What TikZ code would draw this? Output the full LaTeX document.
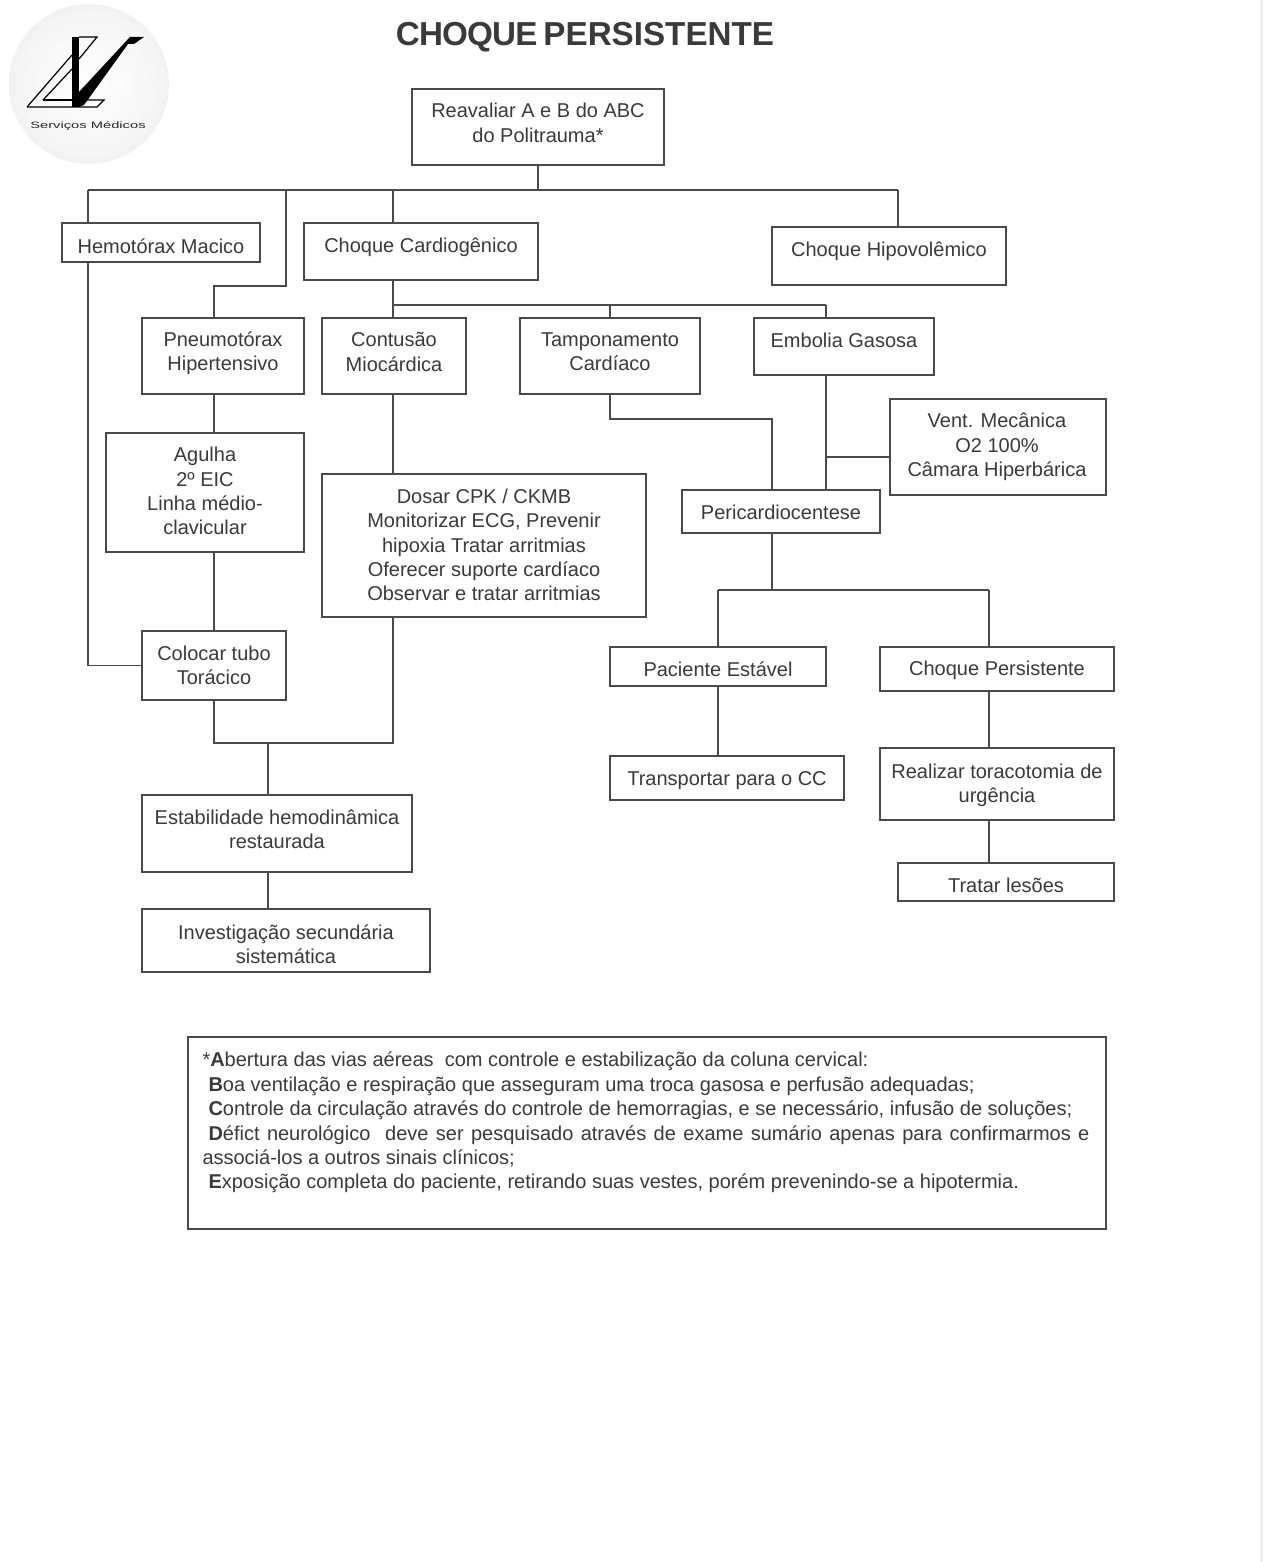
\documentclass[tikz,border=0pt]{standalone}
\usepackage{fontspec}
\setmainfont{Liberation Sans}
\definecolor{ink}{HTML}{3A3A3A}
\definecolor{edge}{HTML}{4A4A4A}
\definecolor{strip}{HTML}{EFEFEF}
\pgfdeclareradialshading{logoshade}{\pgfpointorigin}{color(0bp)=(white); color(22bp)=(white!96!black); color(36bp)=(white!89!black); color(46bp)=(white!81!black); color(50bp)=(white!73!black)}
\tikzset{
  x=0.5pt,y=-0.5pt,
  box/.style={draw=edge,line width=0.75pt,inner sep=0pt,outer sep=0pt,rectangle},
  txt/.style={text=ink,font=\fontsize{10}{12.15}\selectfont,align=center,inner sep=0pt},
  conn/.style={draw=edge,line width=0.75pt,line join=miter},
}
% name, x1, y1, x2, y2, text centre x, text centre y, text
\newcommand{\bx}[8]{%
  \pgfmathsetmacro{\cxx}{(#2+#4)/2}\pgfmathsetmacro{\cyy}{(#3+#5)/2}%
  \pgfmathsetmacro{\wdd}{(#4-#2)*0.5}\pgfmathsetmacro{\htt}{(#5-#3)*0.5}%
  \pgfmathsetmacro{\dxx}{(#6-\cxx)*0.5}\pgfmathsetmacro{\dyy}{(\cyy-#7)*0.5}%
  \node[box,minimum width=\wdd pt,minimum height=\htt pt,
    label={[txt,xshift=\dxx pt,yshift=\dyy pt]center:#8}] (#1) at (\cxx,\cyy) {};}
\begin{document}
\begin{tikzpicture}
\useasboundingbox (0,0) rectangle (1263,1562);
\fill[white] (0,0) rectangle (1263,1562);
\fill[strip] (1260,0) rectangle (1263,1562);
% logo
\shade[shading=logoshade] (89,84) circle[radius=80];
\begin{scope}[line width=0.6pt,draw=black]
\draw (27,107) -- (72,55);
\draw (43,100) -- (72,69);
\draw (79,37) -- (97,37) -- (79,59);
\draw (43,100) -- (72,100);
\draw (27,107) -- (97,107) -- (104,100) -- (87,100);
\fill[black] (72,37) rectangle (79,107);
\fill[black] (79,107) -- (79,92) -- (130,37) -- (144,37) -- (134,44) -- (128,44) -- (84,105) -- cycle;
\end{scope}
\node[inner sep=0pt,text=black!85,font=\fontsize{4.6}{5}\selectfont,xscale=1.6] (logotxt) at (88,126) {Serviços Médicos};
% title
\node[inner sep=0pt,text=ink,font=\bfseries\fontsize{16.6}{18}\selectfont] (title) at (585,37) {{\addfontfeature{LetterSpace=-2.5}CHOQUE}\hspace{3pt}PERSISTENTE};
% boxes
\bx{reav}{412}{89}{664}{165}{538}{123}{Reavaliar A e B do ABC\\do Politrauma*}
\bx{hemo}{62}{223}{260}{262}{161}{246}{Hemotórax Macico}
\bx{card}{304}{223}{538}{280}{421}{247}{Choque Cardiogênico}
\bx{hipo}{772}{227}{1006}{285}{889}{251}{Choque Hipovolêmico}
\bx{pneu}{142}{318}{304}{394}{223}{353}{Pneumotórax\\Hipertensivo}
\bx{cont}{322}{318}{466}{394}{394}{352}{Contusão\\Miocárdica}
\bx{tamp}{520}{318}{700}{394}{610}{352}{Tamponamento\\Cardíaco}
\bx{embo}{754}{318}{934}{375}{844}{340}{Embolia Gasosa}
\bx{vent}{890}{399}{1106}{495}{997}{447}{Vent. Mecânica\\O2 100\%\\Câmara Hiperbárica}
\bx{agul}{106}{433}{304}{552}{205}{491}{Agulha\\2º EIC\\Linha médio-\\clavicular}
\bx{dosa}{322}{474}{646}{617}{484}{545}{Dosar CPK / CKMB\\Monitorizar ECG, Prevenir\\hipoxia Tratar arritmias\\Oferecer suporte cardíaco\\Observar e tratar arritmias}
\bx{peri}{682}{490}{880}{533}{781}{512}{Pericardiocentese}
\bx{tubo}{142}{631}{286}{700}{214}{665}{Colocar tubo\\Torácico}
\bx{paci}{610}{647}{826}{686}{718}{669}{Paciente Estável}
\bx{chqp}{880}{647}{1114}{691}{997}{670}{Choque Persistente}
\bx{tran}{610}{756}{844}{800}{727}{781}{Transportar para o CC}
\bx{real}{880}{748}{1114}{820}{997}{785}{Realizar toracotomia de\\urgência}
\bx{esta}{142}{795}{412}{872}{277}{829}{Estabilidade hemodinâmica\\restaurada}
\bx{trat}{898}{863}{1114}{901}{1006}{885}{Tratar lesões}
\bx{inve}{142}{909}{430}{972}{286}{944}{Investigação secundária\\sistemática}
% footnote
\node[box,minimum width=459pt,minimum height=96pt,
  label={[text=ink,inner sep=0pt,xshift=-0.5pt,yshift=-6pt,font=\fontsize{10}{12.2}\selectfont]center:{\parbox{443.5pt}{\fontsize{10}{12.2}\selectfont\setlength{\parindent}{0pt}\setlength{\parfillskip}{0pt plus 1fil}%
*\textbf{A}bertura das vias aéreas\ \ com controle e estabilização da coluna cervical:\\
\hspace*{3pt}\textbf{B}oa ventilação e respiração que asseguram uma troca gasosa e perfusão adequadas;\\
\hspace*{3pt}\textbf{C}ontrole da circulação através do controle de hemorragias, e se necessário, infusão de soluções;\\
\hspace*{3pt}\textbf{D}éfict neurológico\ \ deve ser pesquisado através de exame sumário apenas para confirmarmos e associá-los a outros sinais clínicos;\\
\hspace*{3pt}\textbf{E}xposição completa do paciente, retirando suas vestes, porém prevenindo-se a hipotermia.\\[12.2pt]\null}}}] (nota) at (647,1133) {};
% junctions
\coordinate (jtop) at (538,190);
\coordinate (jhl) at (88,190);
\coordinate (jpn) at (286,190);
\coordinate (jca) at (393,190);
\coordinate (jhr) at (898,190);
\coordinate (jc2) at (393,305);
\coordinate (jem) at (826,305);
\coordinate (jta) at (610,305);
\coordinate (jpb) at (772,590);
\coordinate (jpl) at (718,590);
\coordinate (jpr) at (989,590);
\coordinate (jtb) at (214,743);
\coordinate (jdo) at (393,743);
\coordinate (jes) at (268,743);
\coordinate (jem2) at (826,457);
% connectors
\draw[conn] (reav.south) -- (jtop);
\draw[conn] (jhl) -- (jhr);
\draw[conn] (jhl) -- (jhl |- hemo.north);
\draw[conn] (jhl |- hemo.south) |- (tubo.west);
\draw[conn] (jpn) -- (286,286) -- (214,286) -- (214,318);
\draw[conn] (jca) -- (jca |- card.north);
\draw[conn] (jhr) -- (jhr |- hipo.north);
\draw[conn] (jc2 |- card.south) -- (jc2 |- cont.north);
\draw[conn] (jc2) -- (jem);
\draw[conn] (jta) -- (tamp.north);
\draw[conn] (jem) -- (jem |- embo.north);
\draw[conn] (jem |- embo.south) -- (jem |- peri.north);
\draw[conn] (vent.west |- jem2) -- (jem2);
\draw[conn] (214,394) -- (214,433);
\draw[conn] (214,552) -- (tubo.north);
\draw[conn] (393,394) -- (393,474);
\draw[conn] (tamp.south) -- (610,419) -- (772,419) -- (772,490);
\draw[conn] (jpb |- peri.south) -- (jpb);
\draw[conn] (jpl) -- (jpr);
\draw[conn] (jpl) -- (paci.north);
\draw[conn] (jpr) -- (jpr |- chqp.north);
\draw[conn] (paci.south) -- (tran.north -| paci.south);
\draw[conn] (jpr |- chqp.south) -- (jpr |- real.north);
\draw[conn] (jpr |- real.south) -- (jpr |- trat.north);
\draw[conn] (tubo.south) -- (jtb) -- (jdo) -- (jdo |- dosa.south);
\draw[conn] (jes) -- (jes |- esta.north);
\draw[conn] (jes |- esta.south) -- (jes |- inve.north);
\end{tikzpicture}
\end{document}
